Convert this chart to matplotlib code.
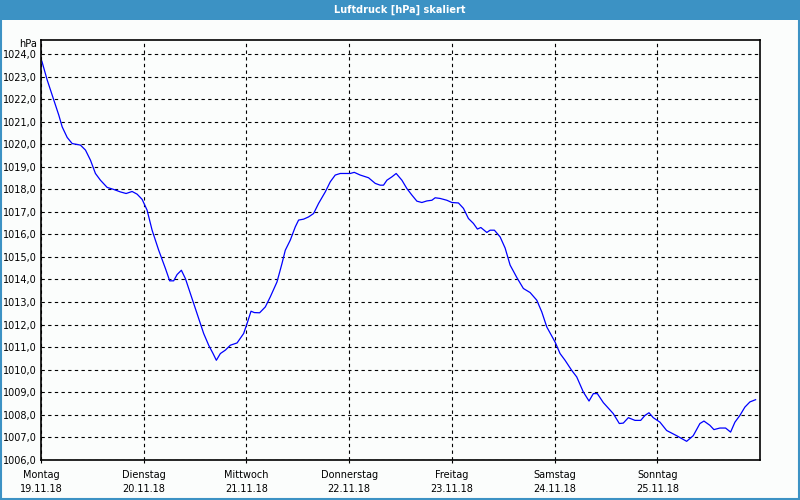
import matplotlib
matplotlib.use("Agg")
import matplotlib.pyplot as plt
from matplotlib.patches import Rectangle

# hours since Montag 19.11.18 00:00
hours = [0.2, 1.45, 2.99, 4.16, 4.95, 6.12, 7.28, 9.22, 10.39, 11.56, 12.72, 13.89,
         15.46, 17.0, 18.56, 19.89, 21.29, 22.46, 23.63, 24.79, 25.96, 27.50, 29.07,
         30.07, 31.00, 31.80, 32.80, 33.74, 34.90, 36.47, 38.01, 39.18, 40.20, 40.97,
         41.91, 43.07, 44.24, 45.81, 47.35, 48.28, 49.07, 49.84, 51.08, 52.41, 53.58,
         55.14, 56.31, 57.08, 58.25, 59.42, 60.19, 61.35, 62.52, 63.69, 64.86, 66.42,
         67.59, 68.75, 69.92, 72.25, 73.19, 74.59, 76.53, 78.09, 79.26, 80.03, 80.82,
         81.99, 82.99, 84.33, 85.49, 86.66, 87.83, 88.99, 90.16, 91.33, 92.10, 93.27,
         94.83, 96.00, 97.54, 98.71, 99.87, 101.04, 101.97, 102.77, 104.17, 104.94,
         105.94, 107.28, 108.44, 109.61, 111.17, 112.71, 114.28, 115.84, 117.01,
         118.18, 120.12, 121.28, 122.45, 124.01, 125.18, 126.72, 128.05, 129.06,
         129.99, 131.39, 133.72, 135.13, 136.06, 137.23, 138.79, 140.12, 141.12,
         142.06, 143.06, 144.63, 146.19, 148.52, 150.86, 152.40, 153.96, 154.90,
         156.30, 157.23, 158.63, 159.96, 161.13, 162.14, 163.30, 164.47, 165.64, 166.97]
hpa = [1023.70, 1022.86, 1021.97, 1021.30, 1020.78, 1020.31, 1020.04, 1019.97, 1019.75,
       1019.30, 1018.71, 1018.41, 1018.09, 1018.00, 1017.89, 1017.82, 1017.91, 1017.79,
       1017.56, 1017.08, 1016.19, 1015.30, 1014.49, 1013.94, 1013.94, 1014.22, 1014.41,
       1014.04, 1013.38, 1012.49, 1011.60, 1011.08, 1010.71, 1010.41, 1010.71, 1010.86,
       1011.08, 1011.18, 1011.60, 1012.12, 1012.59, 1012.53, 1012.52, 1012.78, 1013.23,
       1013.89, 1014.71, 1015.30, 1015.75, 1016.34, 1016.64, 1016.68, 1016.78, 1016.93,
       1017.38, 1017.89, 1018.34, 1018.64, 1018.71, 1018.71, 1018.76, 1018.64, 1018.52,
       1018.27, 1018.19, 1018.19, 1018.41, 1018.56, 1018.71, 1018.41, 1018.04, 1017.75,
       1017.48, 1017.42, 1017.49, 1017.52, 1017.63, 1017.60, 1017.52, 1017.42, 1017.40,
       1017.16, 1016.71, 1016.49, 1016.24, 1016.31, 1016.09, 1016.19, 1016.19, 1015.89,
       1015.40, 1014.64, 1014.09, 1013.60, 1013.42, 1013.08, 1012.56, 1011.89, 1011.22,
       1010.71, 1010.41, 1009.96, 1009.67, 1009.00, 1008.60, 1008.93, 1008.93, 1008.53,
       1008.04, 1007.60, 1007.62, 1007.86, 1007.74, 1007.74, 1007.96, 1008.08, 1007.86,
       1007.66, 1007.29, 1007.06, 1006.81, 1007.06, 1007.60, 1007.71, 1007.52, 1007.33,
       1007.40, 1007.40, 1007.22, 1007.66, 1007.96, 1008.33, 1008.56, 1008.66]

days = ["Montag", "Dienstag", "Mittwoch", "Donnerstag", "Freitag", "Samstag", "Sonntag"]
dates = ["19.11.18", "20.11.18", "21.11.18", "22.11.18", "23.11.18", "24.11.18", "25.11.18"]
yticks = list(range(1006, 1025))

blue = "#3c92c4"
fs = 7

fig = plt.figure(figsize=(8, 5), dpi=100, facecolor="#fbfdfc")

# title bar and frame
fig.patches.append(Rectangle((0, 0.96), 1, 0.04, transform=fig.transFigure,
                             facecolor=blue, edgecolor="none", zorder=0))
fig.patches.append(Rectangle((0.001, 0.003), 0.998, 0.996, transform=fig.transFigure,
                             facecolor="none", edgecolor=blue, lw=1.5, zorder=0))
fig.text(0.5, 0.98, "Luftdruck [hPa] skaliert", color="white", fontsize=fs,
         fontweight="bold", ha="center", va="center")

ax = fig.add_axes([0.05125, 0.08, 0.89875, 0.84])
ax.set_facecolor("#fbfdfc")
ax.plot(hours, hpa, color="#0000ff", lw=0.9)

ax.set_xlim(0, 168)
ax.set_ylim(1005.98, 1024.64)
ax.set_yticks(yticks)
ax.set_yticklabels([f"{v},0" for v in yticks])
ax.set_xticks([24 * i for i in range(7)])
ax.set_xticklabels([f"{d}\n{dt}" for d, dt in zip(days, dates)], linespacing=1.55)

ax.grid(True, color="black", linestyle=(0, (3, 3)), lw=0.8)
ax.tick_params(axis="y", length=0, pad=3, labelsize=fs)
ax.tick_params(axis="x", length=2, pad=5, labelsize=fs, direction="out")
for s in ax.spines.values():
    s.set_linewidth(1.2)

fig.text(0.046, 0.912, "hPa", fontsize=fs, ha="right", va="center")

fig.savefig("out.png", dpi=100, facecolor=fig.get_facecolor())
